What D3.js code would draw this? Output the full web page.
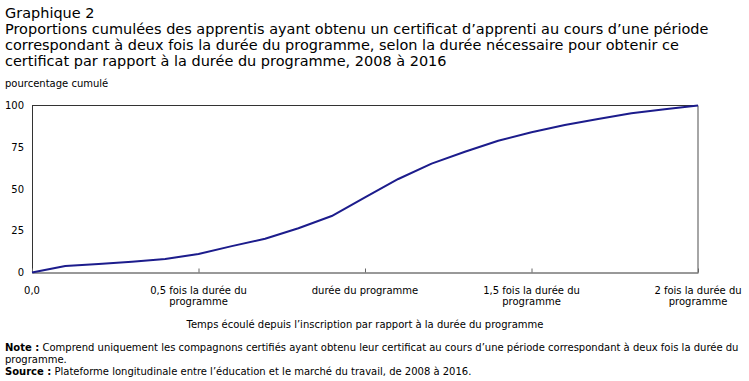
<!DOCTYPE html>
<html><head><meta charset="utf-8">
<script src="https://cdn.jsdelivr.net/npm/d3@7"></script>
<style>body{margin:0;background:#fff}svg{display:block;font-family:"DejaVu Sans",Verdana,sans-serif}</style>
</head><body><svg id="c" width="749" height="381"></svg>
<script>
// Data
const xValues = [0,0.1,0.2,0.3,0.4,0.5,0.6,0.7,0.8,0.9,1.0,1.1,1.2,1.3,1.4,1.5,1.6,1.7,1.8,1.9,2.0];
const cumulative = [0,3.9,5.1,6.5,8.1,11.1,15.8,20.2,26.5,33.8,45.0,56.0,65.2,72.3,78.9,84.0,88.3,91.9,95.3,97.7,100];
const xTicks = [0,0.5,1,1.5,2];
const xTickLabels = [["0,0"],["0,5 fois la durée du","programme"],["durée du programme"],["1,5 fois la durée du","programme"],["2 fois la durée du","programme"]];
const yTicks = [0,25,50,75,100];
const titleLines = ["Graphique 2",
 "Proportions cumulées des apprentis ayant obtenu un certificat d’apprenti au cours d’une période",
 "correspondant à deux fois la durée du programme, selon la durée nécessaire pour obtenir ce",
 "certificat par rapport à la durée du programme, 2008 à 2016"];

const svg = d3.select("#c");
const L=32,R=698,T=105.5,B=272.5;
const x = d3.scaleLinear().domain([0,2]).range([L,R]);
const y = d3.scaleLinear().domain([0,100]).range([B,T]);

// title
const tl = svg.append("g").selectAll("text").data(titleLines).join("text")
  .attr("x",5).attr("y",(d,i)=>18+i*16).attr("font-size",13).attr("fill","#000").text(d=>d);
const w2 = tl.nodes()[1].getComputedTextLength();
const fs = 13*704/w2;
tl.attr("font-size",fs);
svg.append("text").attr("x",5).attr("y",87).attr("font-size",10).text("pourcentage cumulé");

// frame
svg.append("line").attr("x1",L).attr("x2",R).attr("y1",T).attr("y2",T).attr("stroke","#333");
svg.append("line").attr("x1",R).attr("x2",R).attr("y1",T).attr("y2",B).attr("stroke","#888").attr("stroke-width",1.5);

// y axis
const ya = svg.append("g").attr("transform",`translate(${L},0)`)
  .call(d3.axisLeft(y).tickValues(yTicks).tickSize(0).tickPadding(8).tickFormat(d3.format("d")));
ya.select(".domain").attr("stroke","#333");
ya.selectAll("text").attr("font-size",10).attr("font-family","DejaVu Sans").attr("fill","#000");

// x axis
const xa = svg.append("g").attr("transform",`translate(0,${B})`)
  .call(d3.axisBottom(x).tickValues(xTicks).tickSizeInner(-4).tickSizeOuter(0).tickFormat(""));
xa.select(".domain").attr("stroke","#333");
xa.selectAll(".tick line").attr("stroke","#666");
xTicks.forEach((v,i)=>{
  const t = svg.append("text").attr("x",x(v)).attr("y",294).attr("text-anchor","middle").attr("font-size",10);
  xTickLabels[i].forEach((s,j)=>t.append("tspan").attr("x",x(v)).attr("dy",j?11:0).text(s));
});
svg.append("text").attr("x",(L+R)/2).attr("y",328).attr("text-anchor","middle").attr("font-size",10)
  .text("Temps écoulé depuis l’inscription par rapport à la durée du programme");

// line
svg.append("path").datum(xValues.map((v,i)=>[v,cumulative[i]]))
  .attr("fill","none").attr("stroke","#1c1c8c").attr("stroke-width",2).attr("stroke-linejoin","round")
  .attr("d",d3.line().x(d=>x(d[0])).y(d=>y(d[1])));

// notes
const n1 = svg.append("text").attr("x",5).attr("y",351).attr("font-size",10);
n1.append("tspan").attr("font-weight","bold").text("Note :");
n1.append("tspan").text(" Comprend uniquement les compagnons certifiés ayant obtenu leur certificat au cours d’une période correspondant à deux fois la durée du");
svg.append("text").attr("x",5).attr("y",363).attr("font-size",10).text("programme.");
const n2 = svg.append("text").attr("x",5).attr("y",375).attr("font-size",10);
n2.append("tspan").attr("font-weight","bold").text("Source :");
n2.append("tspan").text(" Plateforme longitudinale entre l’éducation et le marché du travail, de 2008 à 2016.");
</script></body></html>
